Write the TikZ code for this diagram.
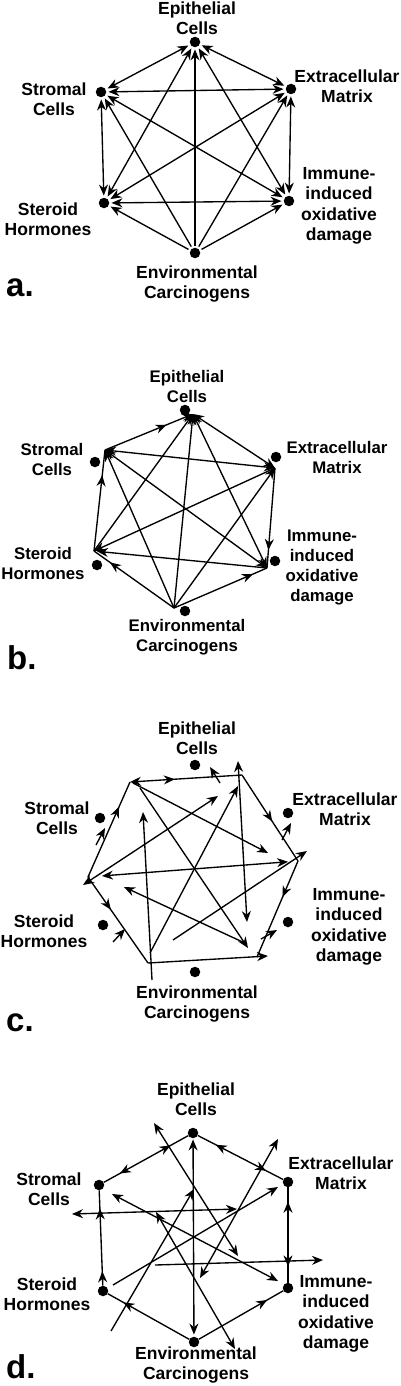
\documentclass[tikz,border=0pt]{standalone}
\usepackage{fontspec}
\setmainfont{Liberation Sans}
\usetikzlibrary{arrows.meta,decorations.markings}
\tikzset{
  dot/.style={circle,fill=black,inner sep=0pt,minimum size=10.5pt},
  lab/.style={align=center,inner sep=0pt,font=\bfseries\fontsize{17.5}{20.5}\selectfont},
  labb/.style={align=center,inner sep=0pt,font=\bfseries\fontsize{16.8}{20}\selectfont},
  plab/.style={anchor=base west,inner sep=0pt,font=\bfseries\fontsize{33}{33}\selectfont},
  ln/.style={line width=1.35pt},
  tp/.style={-{Stealth[length=11pt,width=9pt]}},
  tpb/.style={{Stealth[length=11pt,width=9pt]}-{Stealth[length=11pt,width=9pt]}},
  am/.style={postaction={decorate,decoration={markings,mark=at position #1 with {\arrow{Stealth[length=11pt,width=9pt]}}}}},
  ar/.style={postaction={decorate,decoration={markings,mark=at position #1 with {\arrowreversed{Stealth[length=11pt,width=9pt]}}}}},
}
\begin{document}
\begin{tikzpicture}[x=1pt,y=-1pt]
\useasboundingbox (0,0) rectangle (400,1386);
\fill[white] (0,0) rectangle (400,1386);
% ================= panel a =================
\node[dot] (aE) at (195,42) {};
\node[dot] (aS) at (101,92) {};
\node[dot] (aX) at (291,89) {};
\node[dot] (aH) at (104,203) {};
\node[dot] (aI) at (289,201) {};
\node[dot] (aV) at (195,253) {};
\node[lab] (aEl) at (197,18) {Epithelial\\Cells};
\node[lab] (aXl) at (347,86) {Extracellular\\Matrix};
\node[lab] (aSl) at (54,99) {Stromal\\Cells};
\node[lab] (aIl) at (339,206) {Immune-\\induced\\oxidative\\damage};
\node[lab] (aHl) at (48,219) {Steroid\\Hormones};
\node[lab] (aVl) at (197,284) {Environmental\\Carcinogens};
\node[plab] (aP) at (6,296) {a.};
\begin{scope}[ln,shorten <=2pt,shorten >=2pt]
\draw[tpb] (aE) -- (aS);
\draw[tpb] (aE) -- (aX);
\draw[tpb] (aE) -- (aH);
\draw[tpb] (aE) -- (aI);
\draw[tpb] (aS) -- (aX);
\draw[tpb] (aS) -- (aH);
\draw[tpb] (aS) -- (aI);
\draw[tpb] (aX) -- (aH);
\draw[tpb] (aX) -- (aI);
\draw[tpb] (aH) -- (aI);
\draw[tp] (aV) -- (aE);
\draw[tp] (aV) -- (aS);
\draw[tp] (aV) -- (aX);
\draw[tp] (aV) -- (aH);
\draw[tp] (aV) -- (aI);
\end{scope}
% ================= panel b =================
\node[dot] (bE) at (185,410) {};
\node[dot] (bS) at (95,462) {};
\node[dot] (bX) at (276,457) {};
\node[dot] (bH) at (97,565) {};
\node[dot] (bI) at (275,561) {};
\node[dot] (bV) at (185,611) {};
\coordinate (bEv) at (193,414);
\coordinate (bSv) at (105,450);
\coordinate (bXv) at (275,468);
\coordinate (bHv) at (94,551);
\coordinate (bIv) at (267,568);
\coordinate (bVv) at (174,608);
\node[labb] (bEl) at (187,386) {Epithelial\\Cells};
\node[labb] (bXl) at (337,457) {Extracellular\\Matrix};
\node[labb] (bSl) at (52,459) {Stromal\\Cells};
\node[labb] (bIl) at (322,567) {Immune-\\induced\\oxidative\\damage};
\node[labb] (bHl) at (43,563) {Steroid\\Hormones};
\node[labb] (bVl) at (187,637) {Environmental\\Carcinogens};
\node[plab] (bP) at (7,669) {b.};
\begin{scope}[ln]
\draw[tp,am=0.7] (bSv) -- (bEv);
\draw[tpb] (bEv) -- (bXv);
\draw[tpb] (bSv) -- (bXv);
\draw[am=0.75] (bHv) -- (bSv);
\draw[am=0.82] (bXv) -- (bIv);
\draw[am=0.8] (bVv) -- (bHv);
\draw[am=0.85] (bVv) -- (bIv);
\draw[tp,shorten >=3pt] (bIv) -- (bHv);
\draw[tp] (bVv) -- (bEv);
\draw[tp] (bVv) -- (bXv);
\draw[tp] (bVv) -- (bSv);
\draw[tpb] (bSv) -- (bIv);
\draw[tpb] (bEv) -- (bIv);
\draw[tp] (bXv) -- (bHv);
\draw[tp] (bHv) -- (bEv);
\end{scope}
% ================= panel c =================
\node[dot] (cE) at (195,765) {};
\node[dot] (cX) at (288,813) {};
\node[dot] (cS) at (100,818) {};
\node[dot] (cI) at (288,922) {};
\node[dot] (cH) at (103,925) {};
\node[dot] (cV) at (195,972) {};
\coordinate (cTL) at (130,782);
\coordinate (cTR) at (242,775);
\coordinate (cR) at (298,861);
\coordinate (cBR) at (257,957);
\coordinate (cBL) at (148,963);
\coordinate (cL) at (88,877);
\node[lab] (cEl) at (197,738) {Epithelial\\Cells};
\node[lab] (cXl) at (345,809) {Extracellular\\Matrix};
\node[lab] (cSl) at (57,818) {Stromal\\Cells};
\node[lab] (cIl) at (349,927) {Immune-\\induced\\oxidative\\damage};
\node[lab] (cHl) at (44,931) {Steroid\\Hormones};
\node[lab] (cVl) at (197,1004) {Environmental\\Carcinogens};
\node[plab] (cP) at (6,1031) {c.};
\begin{scope}[ln]
% hexagon edges
\draw[tp,ar=0.6] (cTR) -- (cTL);
\draw[am=0.54] (cTR) -- (cR);
\draw[am=0.375] (cR) -- (cBR);
\coordinate (cBRx) at (268,956);
\draw[tp] (cBL) -- (cBRx);
\draw[am=0.38] (cL) -- (cBL);
\draw[am=0.74] (cL) -- (cTL);
% small arrows near the dots
\coordinate (c1a) at (220,783); \coordinate (c1b) at (210,767);
\draw[tp] (c1a) -- (c1b);
\coordinate (c2a) at (282,840); \coordinate (c2b) at (291,823);
\draw[tp] (c2a) -- (c2b);
\coordinate (c3a) at (261,939); \coordinate (c3b) at (277,930);
\draw[tp] (c3a) -- (c3b);
\coordinate (c4a) at (113,942); \coordinate (c4b) at (125,929);
\draw[tp] (c4a) -- (c4b);
\coordinate (c5a) at (96,845); \coordinate (c5b) at (105,828);
\draw[tp] (c5a) -- (c5b);
% internal lines
\draw[tpb,shorten <=14pt,shorten >=10pt] (cL) -- (cR);
\coordinate (c6a) at (238,761); \coordinate (c6b) at (247,922);
\draw[tpb] (c6a) -- (c6b);
\coordinate (c7a) at (152,980); \coordinate (c7b) at (143,812);
\draw[tp] (c7a) -- (c7b);
\coordinate (c8a) at (150,953); \coordinate (c8b) at (238,786);
\draw[tp] (c8a) -- (c8b);
\coordinate (c9a) at (83,885); \coordinate (c9b) at (218,796);
\draw[tpb] (c9a) -- (c9b);
\coordinate (c10a) at (133,783); \coordinate (c10b) at (268,853);
\draw[tp] (c10a) -- (c10b);
\coordinate (c11a) at (140,788); \coordinate (c11b) at (248,948);
\draw[tp] (c11a) -- (c11b);
\coordinate (c12a) at (173,940); \coordinate (c12b) at (307,851);
\draw[tp] (c12a) -- (c12b);
\coordinate (c13a) at (247,944); \coordinate (c13b) at (124,887);
\draw[tp] (c13a) -- (c13b);
\end{scope}
% ================= panel d =================
\node[dot] (dE) at (193,1133) {};
\node[dot] (dS) at (99,1185) {};
\node[dot] (dX) at (288,1182) {};
\node[dot] (dH) at (103,1291) {};
\node[dot] (dI) at (288,1288) {};
\node[dot] (dV) at (194,1342) {};
\node[lab] (dEl) at (196,1099) {Epithelial\\Cells};
\node[lab] (dXl) at (341,1173) {Extracellular\\Matrix};
\node[lab] (dSl) at (49,1189) {Stromal\\Cells};
\node[lab] (dIl) at (336,1314) {Immune-\\induced\\oxidative\\damage};
\node[lab] (dHl) at (47,1294) {Steroid\\Hormones};
\node[lab] (dVl) at (196,1365) {Environmental\\Carcinogens};
\node[plab] (dP) at (6,1378) {d.};
\begin{scope}[ln]
\draw[ar=0.21,am=0.81] (dE) -- (dS);
\draw[ar=0.21,am=0.8] (dE) -- (dX);
\draw[ar=0.19,ar=0.85] (dS) -- (dH);
\draw[ar=0.15,am=0.83] (dX) -- (dI);
\draw[am=0.81] (dV) -- (dH);
\draw[am=0.81] (dV) -- (dI);
\draw[tpb,shorten <=1pt,shorten >=2pt] (dE) -- (dV);
\coordinate (d2a) at (72,1214); \coordinate (d2b) at (237,1209);
\draw[tpb] (d2a) -- (d2b);
\coordinate (d3a) at (155,1265); \coordinate (d3b) at (323,1260);
\draw[tp] (d3a) -- (d3b);
\coordinate (d4a) at (112,1194); \coordinate (d4b) at (278,1281);
\draw[tpb] (d4a) -- (d4b);
\coordinate (d5a) at (154,1123); \coordinate (d5b) at (238,1256);
\draw[tpb] (d5a) -- (d5b);
\coordinate (d6a) at (200,1278); \coordinate (d6b) at (278,1139);
\draw[tpb] (d6a) -- (d6b);
\coordinate (d7a) at (113,1285); \coordinate (d7b) at (278,1187);
\draw[tp] (d7a) -- (d7b);
\coordinate (d8a) at (111,1331); \coordinate (d8b) at (194,1189);
\draw[tp] (d8a) -- (d8b);
\coordinate (d9a) at (156,1212); \coordinate (d9b) at (235,1349);
\draw[tpb] (d9a) -- (d9b);
\end{scope}
\end{tikzpicture}
\end{document}
